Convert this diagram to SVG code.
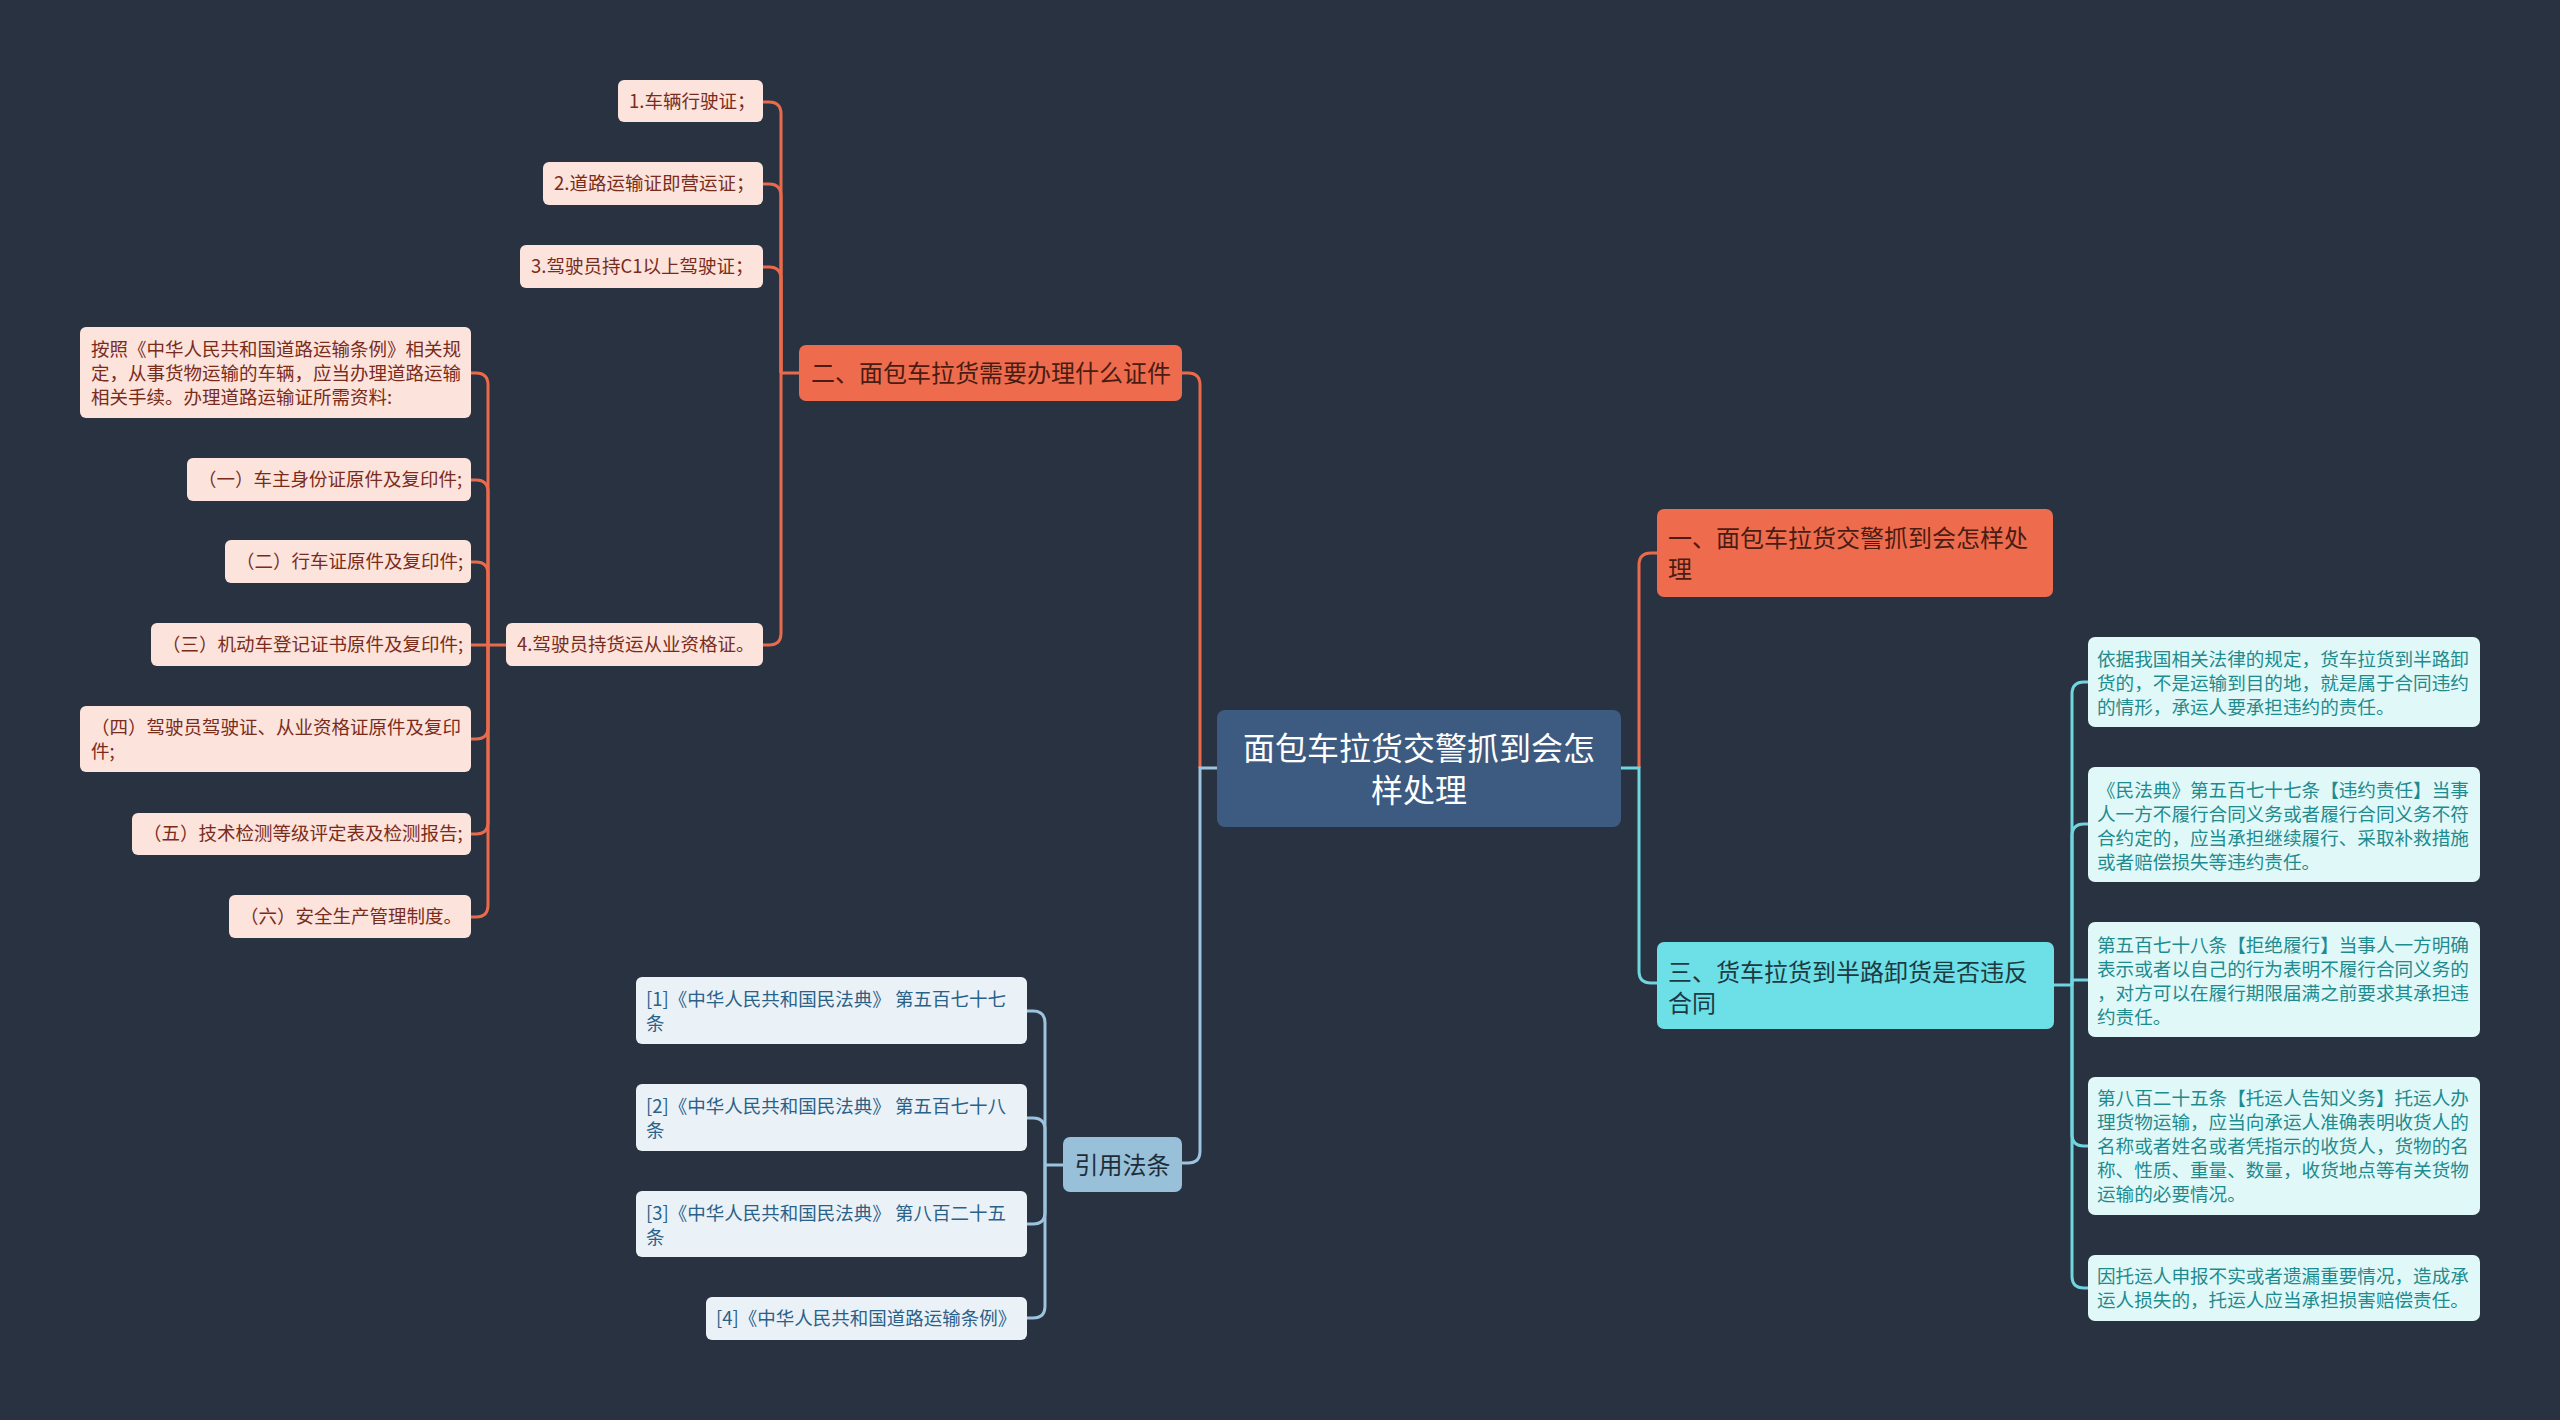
<svg xmlns="http://www.w3.org/2000/svg" width="2560" height="1420" viewBox="0 0 2560 1420">
<style>
text{font-family:"Noto Sans CJK SC","Noto Sans",sans-serif;}
.l2{fill:#fce3db;}
.l2t{fill:#7a2c1c;font-size:18.5px;}
.or{fill:#ee6c4d;}
.ort{fill:#4a1c12;font-size:24px;}
.cy{fill:#6ddfe6;}
.cyt{fill:#1c3a42;font-size:24px;}
.rb{fill:#e1f8f9;}
.rbt{fill:#1e8b8e;font-size:18.6px;}
.cb{fill:#eaf2f8;}
.cbt{fill:#2a6188;font-size:18.5px;}
.c-o{stroke:#ea6a4c;stroke-width:3;fill:none;}
.c-b{stroke:#9cc4de;stroke-width:3;fill:none;}
.c-c{stroke:#6fd6e0;stroke-width:3;fill:none;}
</style>
<rect x="0" y="0" width="2560" height="1420" fill="#293241"/>
<g id="connectors">
<path class="c-o" d="M1200,768 V385 Q1200,373 1188,373 H1182"/>
<path class="c-b" d="M1217,768 H1200 V1151 Q1200,1163 1188,1163 H1182"/>
<path class="c-o" d="M1639,768 V565 Q1639,553 1651,553 H1657"/>
<path class="c-c" d="M1621,768 H1639 V971 Q1639,983 1651,983 H1657"/>
<path class="c-o" d="M799,373 H781"/>
<path class="c-o" d="M763,102 H769 Q781,102 781,114 V373"/>
<path class="c-o" d="M763,184 H769 Q781,184 781,196 V373"/>
<path class="c-o" d="M763,267 H769 Q781,267 781,279 V373"/>
<path class="c-o" d="M763,645 H769 Q781,645 781,633 V373"/>
<path class="c-o" d="M506,645 H471"/>
<path class="c-o" d="M471,373 H476 Q488,373 488,385 V645"/>
<path class="c-o" d="M471,480 H476 Q488,480 488,492 V645"/>
<path class="c-o" d="M471,562 H476 Q488,562 488,574 V645"/>
<path class="c-o" d="M471,739 H476 Q488,739 488,727 V645"/>
<path class="c-o" d="M471,834 H476 Q488,834 488,822 V645"/>
<path class="c-o" d="M471,917 H476 Q488,917 488,905 V645"/>
<path class="c-c" d="M2054,985 H2072"/>
<path class="c-c" d="M2088,682 H2084 Q2072,682 2072,694 V985"/>
<path class="c-c" d="M2088,824 H2084 Q2072,824 2072,836 V985"/>
<path class="c-c" d="M2088,980 H2072 V985"/>
<path class="c-c" d="M2088,1146 H2084 Q2072,1146 2072,1134 V985"/>
<path class="c-c" d="M2088,1288 H2084 Q2072,1288 2072,1276 V985"/>
<path class="c-b" d="M1063,1165 H1045"/>
<path class="c-b" d="M1027,1011 H1033 Q1045,1011 1045,1023 V1165"/>
<path class="c-b" d="M1027,1118 H1033 Q1045,1118 1045,1130 V1165"/>
<path class="c-b" d="M1027,1224 H1033 Q1045,1224 1045,1212 V1165"/>
<path class="c-b" d="M1027,1318 H1033 Q1045,1318 1045,1306 V1165"/>
</g>
<g id="center">
<rect x="1217" y="710" width="404" height="117" rx="8" fill="#3d5a80"/>
<text x="1419" y="760" fill="#ffffff" font-size="32" text-anchor="middle">面包车拉货交警抓到会怎</text>
<text x="1419" y="802" fill="#ffffff" font-size="32" text-anchor="middle">样处理</text>
</g>
<g id="n2">
<rect class="or" x="799" y="345" width="383" height="56" rx="7"/>
<text class="ort" x="811" y="382">二、面包车拉货需要办理什么证件</text>
</g>
<g id="n2-1">
<rect class="l2" x="618" y="80" width="145" height="42" rx="6"/>
<text class="l2t" x="629" y="108">1.车辆行驶证；</text>
</g>
<g id="n2-2">
<rect class="l2" x="543" y="162" width="220" height="43" rx="6"/>
<text class="l2t" x="554" y="190">2.道路运输证即营运证；</text>
</g>
<g id="n2-3">
<rect class="l2" x="520" y="245" width="243" height="43" rx="6"/>
<text class="l2t" x="531" y="273">3.驾驶员持C1以上驾驶证；</text>
</g>
<g id="n2-4">
<rect class="l2" x="506" y="623" width="257" height="43" rx="6"/>
<text class="l2t" x="517" y="651">4.驾驶员持货运从业资格证。</text>
</g>
<g id="n2-4-0">
<rect class="l2" x="80" y="327" width="391" height="91" rx="6"/>
<text class="l2t" x="91" y="356">按照《中华人民共和国道路运输条例》相关规</text>
<text class="l2t" x="91" y="380">定，从事货物运输的车辆，应当办理道路运输</text>
<text class="l2t" x="91" y="404">相关手续。办理道路运输证所需资料:</text>
</g>
<g id="n2-4-1">
<rect class="l2" x="187" y="458" width="284" height="43" rx="6"/>
<text class="l2t" x="198" y="486">（一）车主身份证原件及复印件;</text>
</g>
<g id="n2-4-2">
<rect class="l2" x="225" y="540" width="246" height="43" rx="6"/>
<text class="l2t" x="236" y="568">（二）行车证原件及复印件;</text>
</g>
<g id="n2-4-3">
<rect class="l2" x="151" y="623" width="320" height="43" rx="6"/>
<text class="l2t" x="162" y="651">（三）机动车登记证书原件及复印件;</text>
</g>
<g id="n2-4-4">
<rect class="l2" x="80" y="706" width="391" height="66" rx="6"/>
<text class="l2t" x="91" y="734">（四）驾驶员驾驶证、从业资格证原件及复印</text>
<text class="l2t" x="91" y="758">件;</text>
</g>
<g id="n2-4-5">
<rect class="l2" x="132" y="813" width="339" height="42" rx="6"/>
<text class="l2t" x="143" y="840">（五）技术检测等级评定表及检测报告;</text>
</g>
<g id="n2-4-6">
<rect class="l2" x="229" y="895" width="242" height="43" rx="6"/>
<text class="l2t" x="240" y="923">（六）安全生产管理制度。</text>
</g>
<g id="n1">
<rect class="or" x="1657" y="509" width="396" height="88" rx="7"/>
<text class="ort" x="1668" y="547">一、面包车拉货交警抓到会怎样处</text>
<text class="ort" x="1668" y="578">理</text>
</g>
<g id="n3">
<rect class="cy" x="1657" y="942" width="397" height="87" rx="7"/>
<text class="cyt" x="1668" y="981">三、货车拉货到半路卸货是否违反</text>
<text class="cyt" x="1668" y="1012">合同</text>
</g>
<g id="n3-1">
<rect class="rb" x="2088" y="637" width="392" height="90" rx="7"/>
<text class="rbt" x="2097" y="666">依据我国相关法律的规定，货车拉货到半路卸</text>
<text class="rbt" x="2097" y="690">货的，不是运输到目的地，就是属于合同违约</text>
<text class="rbt" x="2097" y="714">的情形，承运人要承担违约的责任。</text>
</g>
<g id="n3-2">
<rect class="rb" x="2088" y="767" width="392" height="115" rx="7"/>
<text class="rbt" x="2097" y="797">《民法典》第五百七十七条【违约责任】当事</text>
<text class="rbt" x="2097" y="821">人一方不履行合同义务或者履行合同义务不符</text>
<text class="rbt" x="2097" y="845">合约定的，应当承担继续履行、采取补救措施</text>
<text class="rbt" x="2097" y="869">或者赔偿损失等违约责任。</text>
</g>
<g id="n3-3">
<rect class="rb" x="2088" y="922" width="392" height="115" rx="7"/>
<text class="rbt" x="2097" y="952">第五百七十八条【拒绝履行】当事人一方明确</text>
<text class="rbt" x="2097" y="976">表示或者以自己的行为表明不履行合同义务的</text>
<text class="rbt" x="2097" y="1000">，对方可以在履行期限届满之前要求其承担违</text>
<text class="rbt" x="2097" y="1024">约责任。</text>
</g>
<g id="n3-4">
<rect class="rb" x="2088" y="1077" width="392" height="138" rx="7"/>
<text class="rbt" x="2097" y="1105">第八百二十五条【托运人告知义务】托运人办</text>
<text class="rbt" x="2097" y="1129">理货物运输，应当向承运人准确表明收货人的</text>
<text class="rbt" x="2097" y="1153">名称或者姓名或者凭指示的收货人，货物的名</text>
<text class="rbt" x="2097" y="1177">称、性质、重量、数量，收货地点等有关货物</text>
<text class="rbt" x="2097" y="1201">运输的必要情况。</text>
</g>
<g id="n3-5">
<rect class="rb" x="2088" y="1255" width="392" height="66" rx="7"/>
<text class="rbt" x="2097" y="1283">因托运人申报不实或者遗漏重要情况，造成承</text>
<text class="rbt" x="2097" y="1307">运人损失的，托运人应当承担损害赔偿责任。</text>
</g>
<g id="refs">
<rect x="1063" y="1137" width="119" height="55" rx="7" fill="#98c1d9"/>
<text x="1122.5" y="1174" fill="#1f2d3a" font-size="24" text-anchor="middle">引用法条</text>
</g>
<g id="ref-1">
<rect class="cb" x="636" y="977" width="391" height="67" rx="6"/>
<text class="cbt" x="646" y="1006">[1]《中华人民共和国民法典》 第五百七十七</text>
<text class="cbt" x="646" y="1030">条</text>
</g>
<g id="ref-2">
<rect class="cb" x="636" y="1084" width="391" height="67" rx="6"/>
<text class="cbt" x="646" y="1113">[2]《中华人民共和国民法典》 第五百七十八</text>
<text class="cbt" x="646" y="1137">条</text>
</g>
<g id="ref-3">
<rect class="cb" x="636" y="1191" width="391" height="66" rx="6"/>
<text class="cbt" x="646" y="1220">[3]《中华人民共和国民法典》 第八百二十五</text>
<text class="cbt" x="646" y="1244">条</text>
</g>
<g id="ref-4">
<rect class="cb" x="706" y="1297" width="321" height="43" rx="6"/>
<text class="cbt" x="716" y="1325">[4]《中华人民共和国道路运输条例》</text>
</g>
</svg>
